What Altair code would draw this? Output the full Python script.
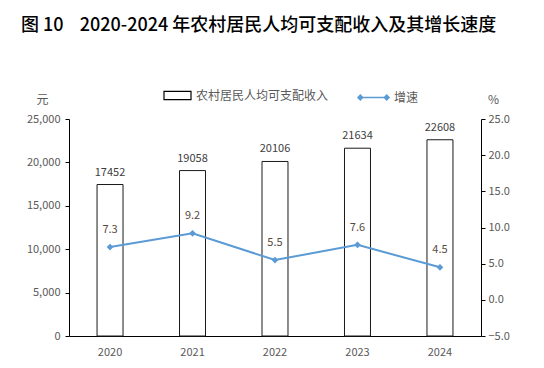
import altair as alt
import pandas as pd

years = ["2020", "2021", "2022", "2023", "2024"]
income = [17452, 19058, 20106, 21634, 22608]
growth = [7.3, 9.2, 5.5, 7.6, 4.5]
bar_name = "农村居民人均可支配收入"
line_name = "增速"
left_ticks = [0, 5000, 10000, 15000, 20000, 25000]
right_ticks = [-5, 0, 5, 10, 15, 20, 25]

df = pd.DataFrame({"year": years, "income": income, "growth": growth,
                   "bs": [bar_name] * 5, "ls": [line_name] * 5})

FONT = "Noto Sans CJK SC"
BLUE = "#5B9BD5"
GRAY = "#595959"

x = alt.X("year:N", title=None,
          scale=alt.Scale(paddingInner=0.685, paddingOuter=0.34),
          axis=alt.Axis(labelAngle=0, ticks=False, domainColor="#000000",
                        labelColor=GRAY, labelFontSize=11, labelPadding=10,
                        labelFont=FONT))

base = alt.Chart(df).encode(x=x)

yl = alt.Y("income:Q", scale=alt.Scale(domain=[0, 25000]),
           axis=alt.Axis(orient="left", values=left_ticks, format=",d", grid=False,
                         title="元", titleAngle=0, titleX=-27, titleY=-20,
                         titleAlign="center", titleBaseline="middle",
                         titleFontWeight="normal", titleFontSize=12, titleColor=GRAY,
                         titleFont=FONT, domainColor="#000000", tickColor="#000000",
                         tickSize=4, labelPadding=5, labelColor=GRAY, labelFontSize=11,
                         labelFont=FONT))

bars = base.mark_bar(stroke="#1a1a1a", strokeWidth=1).encode(
    y=yl,
    fill=alt.Fill("bs:N", title=None,
                  scale=alt.Scale(domain=[bar_name], range=["#ffffff"]),
                  legend=alt.Legend(orient="none", legendX=94, legendY=-38,
                                    symbolType="M-1,-0.3L1,-0.3L1,0.3L-1,0.3Z",
                                    symbolSize=729, symbolStrokeColor="#000000",
                                    symbolStrokeWidth=1.2, labelFontSize=12,
                                    labelColor=GRAY, labelFont=FONT, labelOffset=4)),
)
bar_text = base.mark_text(baseline="bottom", dy=-7, fontSize=11, color="#404040",
                          font=FONT).encode(
    y=yl,
    text=alt.Text("income:Q", format="d"),
)

yr = alt.Y("growth:Q", scale=alt.Scale(domain=[-5, 25]),
           axis=alt.Axis(orient="right", values=right_ticks, format=".1f", grid=False,
                         title="%", titleAngle=0, titleX=12, titleY=-20,
                         titleAlign="center", titleBaseline="middle",
                         titleFontWeight="normal", titleFontSize=12, titleColor=GRAY,
                         titleFont=FONT, domainColor="#000000", tickColor="#000000",
                         tickSize=4, labelPadding=3, labelColor=GRAY, labelFontSize=11,
                         labelFont=FONT))

line = base.mark_line(color=BLUE, strokeWidth=2).encode(y=yr)
points = base.mark_point(filled=True, shape="diamond", size=45, opacity=1).encode(
    y=yr,
    color=alt.Color("ls:N", title=None,
                    scale=alt.Scale(domain=[line_name], range=[BLUE]),
                    legend=alt.Legend(orient="none", legendX=288, legendY=-38,
                                      symbolType="M-1,0L-0.85,-0.15L-0.7,0L-0.85,0.15ZM0.7,0L0.85,-0.15L1,0L0.85,0.15ZM-0.7,0L0.7,0",
                                      symbolSize=961, symbolStrokeColor=BLUE,
                                      symbolFillColor=BLUE, symbolStrokeWidth=1.5,
                                      labelFontSize=12, labelColor=GRAY, labelFont=FONT,
                                      labelOffset=4)),
)
line_text = base.mark_text(baseline="bottom", dy=-12, fontSize=11, color="#5a4a42",
                           font=FONT).encode(
    y=yr,
    text=alt.Text("growth:Q", format=".1f"),
)

left = alt.layer(bars, bar_text)
right = alt.layer(line, points, line_text)

title_text = "图 10\u00a0\u00a0\u00a0\u00a02020-2024 年农村居民人均可支配收入及其增长速度"

chart = alt.layer(left, right).resolve_scale(
    y="independent", color="independent", fill="independent"
).properties(
    width=412, height=217,
    autosize="none",
    padding={"left": 61, "top": 111, "right": 55, "bottom": 24},
    title=alt.TitleParams(title_text,
                          anchor="start", frame="group", dx=-48, dy=-42,
                          fontSize=18, font=FONT, fontWeight=500, color="#000000"),
).configure_view(stroke=None)

chart.save("out.html", embed_options={"renderer": "svg", "actions": False})
